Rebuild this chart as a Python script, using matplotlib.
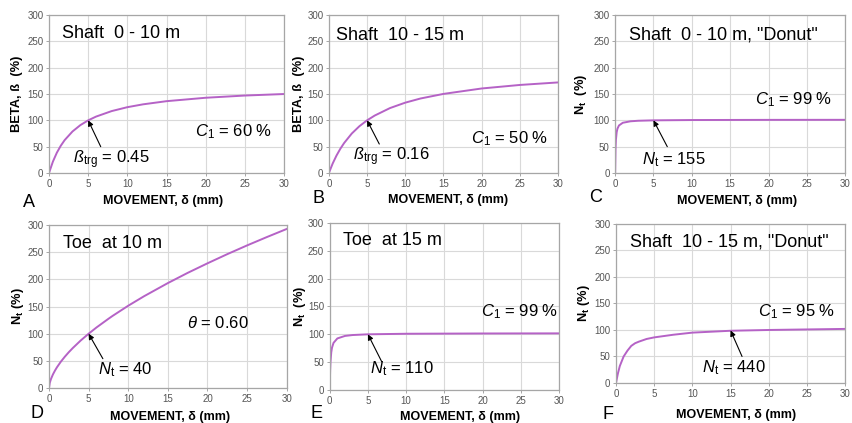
import matplotlib
matplotlib.use("Agg")
import matplotlib.pyplot as plt

plt.rcParams["font.family"] = ["Liberation Sans", "DejaVu Sans"]
plt.rcParams["mathtext.fontset"] = "custom"
plt.rcParams["mathtext.rm"] = "Liberation Sans"
plt.rcParams["mathtext.it"] = "Liberation Sans:italic"
plt.rcParams["mathtext.bf"] = "Liberation Sans:bold"

# movement (mm) and mobilized resistance (%)
delta_a = [0, 0.5, 1, 1.5, 2, 3, 4, 5, 6, 8, 10, 12, 15, 20, 25, 30]
resp_a = [0, 21.7, 38.5, 51.7, 62.5, 78.9, 90.9, 100, 107.1, 117.6, 125, 130.4, 136.4, 142.9, 147.1, 150]

delta_b = [0, 0.5, 1, 1.5, 2, 3, 4, 5, 6, 8, 10, 12, 15, 20, 25, 30]
resp_b = [0, 18.1, 33.2, 46.0, 57.0, 75.0, 88.9, 100, 109.1, 123.3, 133.6, 141.5, 150.2, 160.5, 167.2, 172]

delta_c = [0, 0.05, 0.1, 0.2, 0.3, 0.5, 1, 2, 3, 5, 10, 20, 30]
resp_c = [0, 45.7, 63.0, 77.6, 84.2, 90.3, 95.4, 98.2, 99.2, 100, 100.6, 100.9, 101]

delta_d = [0, 0.1, 0.25, 0.5, 0.75, 1, 1.5, 2, 2.5, 3, 4, 5, 6, 7.5, 8, 10, 12, 15,
           17.5, 20, 22.5, 25, 27.5, 30]
resp_d = [0, 9.6, 16.6, 25.1, 32.0, 38.1, 48.6, 57.7, 66.0, 73.6, 87.5, 100, 111.6, 127.5,
          132.6, 151.6, 169.1, 193.3, 212.1, 229.7, 246.6, 262.7, 278.1, 293]

delta_e = [0, 0.05, 0.1, 0.2, 0.3, 0.5, 1, 2, 3, 5, 10, 20, 30]
resp_e = [0, 33.6, 50.5, 67.6, 76.1, 84.7, 92.6, 97.1, 98.7, 100, 101, 101.5, 101.7]

delta_f = [0, 0.25, 0.5, 1, 1.5, 2, 2.5, 3, 4, 5, 7.5, 10, 15, 20, 25, 30]
resp_f = [0, 18, 32, 50, 61, 70, 75, 78, 83, 86, 91, 95, 98.5, 100, 101, 102]

titles = ["Shaft  0 - 10 m", "Shaft  10 - 15 m", 'Shaft  0 - 10 m, "Donut"',
          "Toe  at 10 m", "Toe  at 15 m", 'Shaft  10 - 15 m, "Donut"']
panel_letters = ["A", "B", "C", "D", "E", "F"]
ylabels = [r"BETA, ß  (%)", r"BETA, ß  (%)", r"$\mathbf{N_t}$  (%)",
           r"$\mathbf{N_t}$ (%)", r"$\mathbf{N_t}$  (%)", r"$\mathbf{N_t}$ (%)"]
param_text = [r"$C_1$ = 60 %", r"$C_1$ = 50 %", r"$C_1$ = 99 %",
              r"$\theta$ = 0.60", r"$C_1$ = 99 %", r"$C_1$ = 95 %"]
target_text = [r"$\mathit{ß}_{\mathrm{trg}}$ = 0.45", r"$\mathit{ß}_{\mathrm{trg}}$ = 0.16",
               r"$N_{\mathrm{t}}$ = 155", r"$N_{\mathrm{t}}$ = 40",
               r"$N_{\mathrm{t}}$ = 110", r"$N_{\mathrm{t}}$ = 440"]
target_point = [(5, 100), (5, 100), (5, 100), (5, 100), (5, 100), (15, 99)]

series = [(delta_a, resp_a), (delta_b, resp_b), (delta_c, resp_c),
          (delta_d, resp_d), (delta_e, resp_e), (delta_f, resp_f)]

axes_rect = [
    [0.0575, 0.591, 0.276, 0.3735],
    [0.386, 0.591, 0.269, 0.3735],
    [0.722, 0.591, 0.270, 0.3735],
    [0.0575, 0.0827, 0.279, 0.385],
    [0.387, 0.078, 0.269, 0.395],
    [0.723, 0.0946, 0.269, 0.376],
]
title_pos = [(0.055, 0.937), (0.03, 0.925), (0.06, 0.925),
             (0.058, 0.94), (0.057, 0.946), (0.06, 0.937)]
param_pos = [(18.6, 79), (18.6, 66), (18.25, 140), (17.4, 119), (19.85, 141), (18.6, 134)]
target_pos = [(3.1, 26), (3.15, 31.5), (3.5, 26), (6.2, 34), (5.3, 39), (11.3, 28)]
arrow_tail = [(6.6, 50), (6.6, 55), (6.8, 50), (6.8, 54), (6.8, 51), (16.5, 50)]
ylabel_x = [-0.11, -0.105, -0.115, -0.095, -0.095, -0.105]
xlabel_pos = [(0.485, -0.139), (0.52, -0.133), (0.53, -0.139),
              (0.51, -0.141), (0.57, -0.126), (0.525, -0.164)]
letter_pos = [(23, 207), (312, 203), (589, 202), (30, 418), (310, 418), (602, 419)]

line_color = "#b562c6"
spine_color = "#a6a6a6"

fig = plt.figure(figsize=(8.52, 4.23), dpi=100)

for i in range(6):
    ax = fig.add_axes(axes_rect[i])
    x, y = series[i]
    ax.plot(x, y, color=line_color, lw=1.4, solid_joinstyle="round")
    ax.set_xlim(0, 30)
    ax.set_ylim(0, 300)
    ax.set_xticks(range(0, 31, 5))
    ax.set_yticks(range(0, 301, 50))
    ax.grid(True, color="#d9d9d9", lw=0.8)
    ax.set_axisbelow(True)
    for sp in ax.spines.values():
        sp.set_color(spine_color)
        sp.set_linewidth(0.9)
    ax.tick_params(labelsize=7, colors="#555555", length=2.5, width=0.7,
                   pad=1.5, color=spine_color)

    ax.set_ylabel(ylabels[i], fontsize=9.3, fontweight="bold")
    ax.yaxis.set_label_coords(ylabel_x[i], 0.5)
    ax.set_xlabel("MOVEMENT, δ (mm)", fontsize=9, fontweight="bold")
    ax.xaxis.set_label_coords(*xlabel_pos[i])

    ax.text(title_pos[i][0], title_pos[i][1], titles[i], transform=ax.transAxes,
            fontsize=13, va="top", ha="left")
    ax.text(param_pos[i][0], param_pos[i][1], param_text[i], fontsize=12,
            va="center", ha="left")
    ax.text(target_pos[i][0], target_pos[i][1], target_text[i], fontsize=12,
            va="center", ha="left")
    ax.annotate("", xy=target_point[i], xytext=arrow_tail[i],
                arrowprops=dict(arrowstyle="-|>", color="black", lw=0.8,
                                mutation_scale=8, shrinkA=0, shrinkB=0))

    fig.text(letter_pos[i][0] / 852, 1 - letter_pos[i][1] / 423, panel_letters[i],
             fontsize=13, ha="left", va="baseline")

fig.savefig("out.png", dpi=100)
